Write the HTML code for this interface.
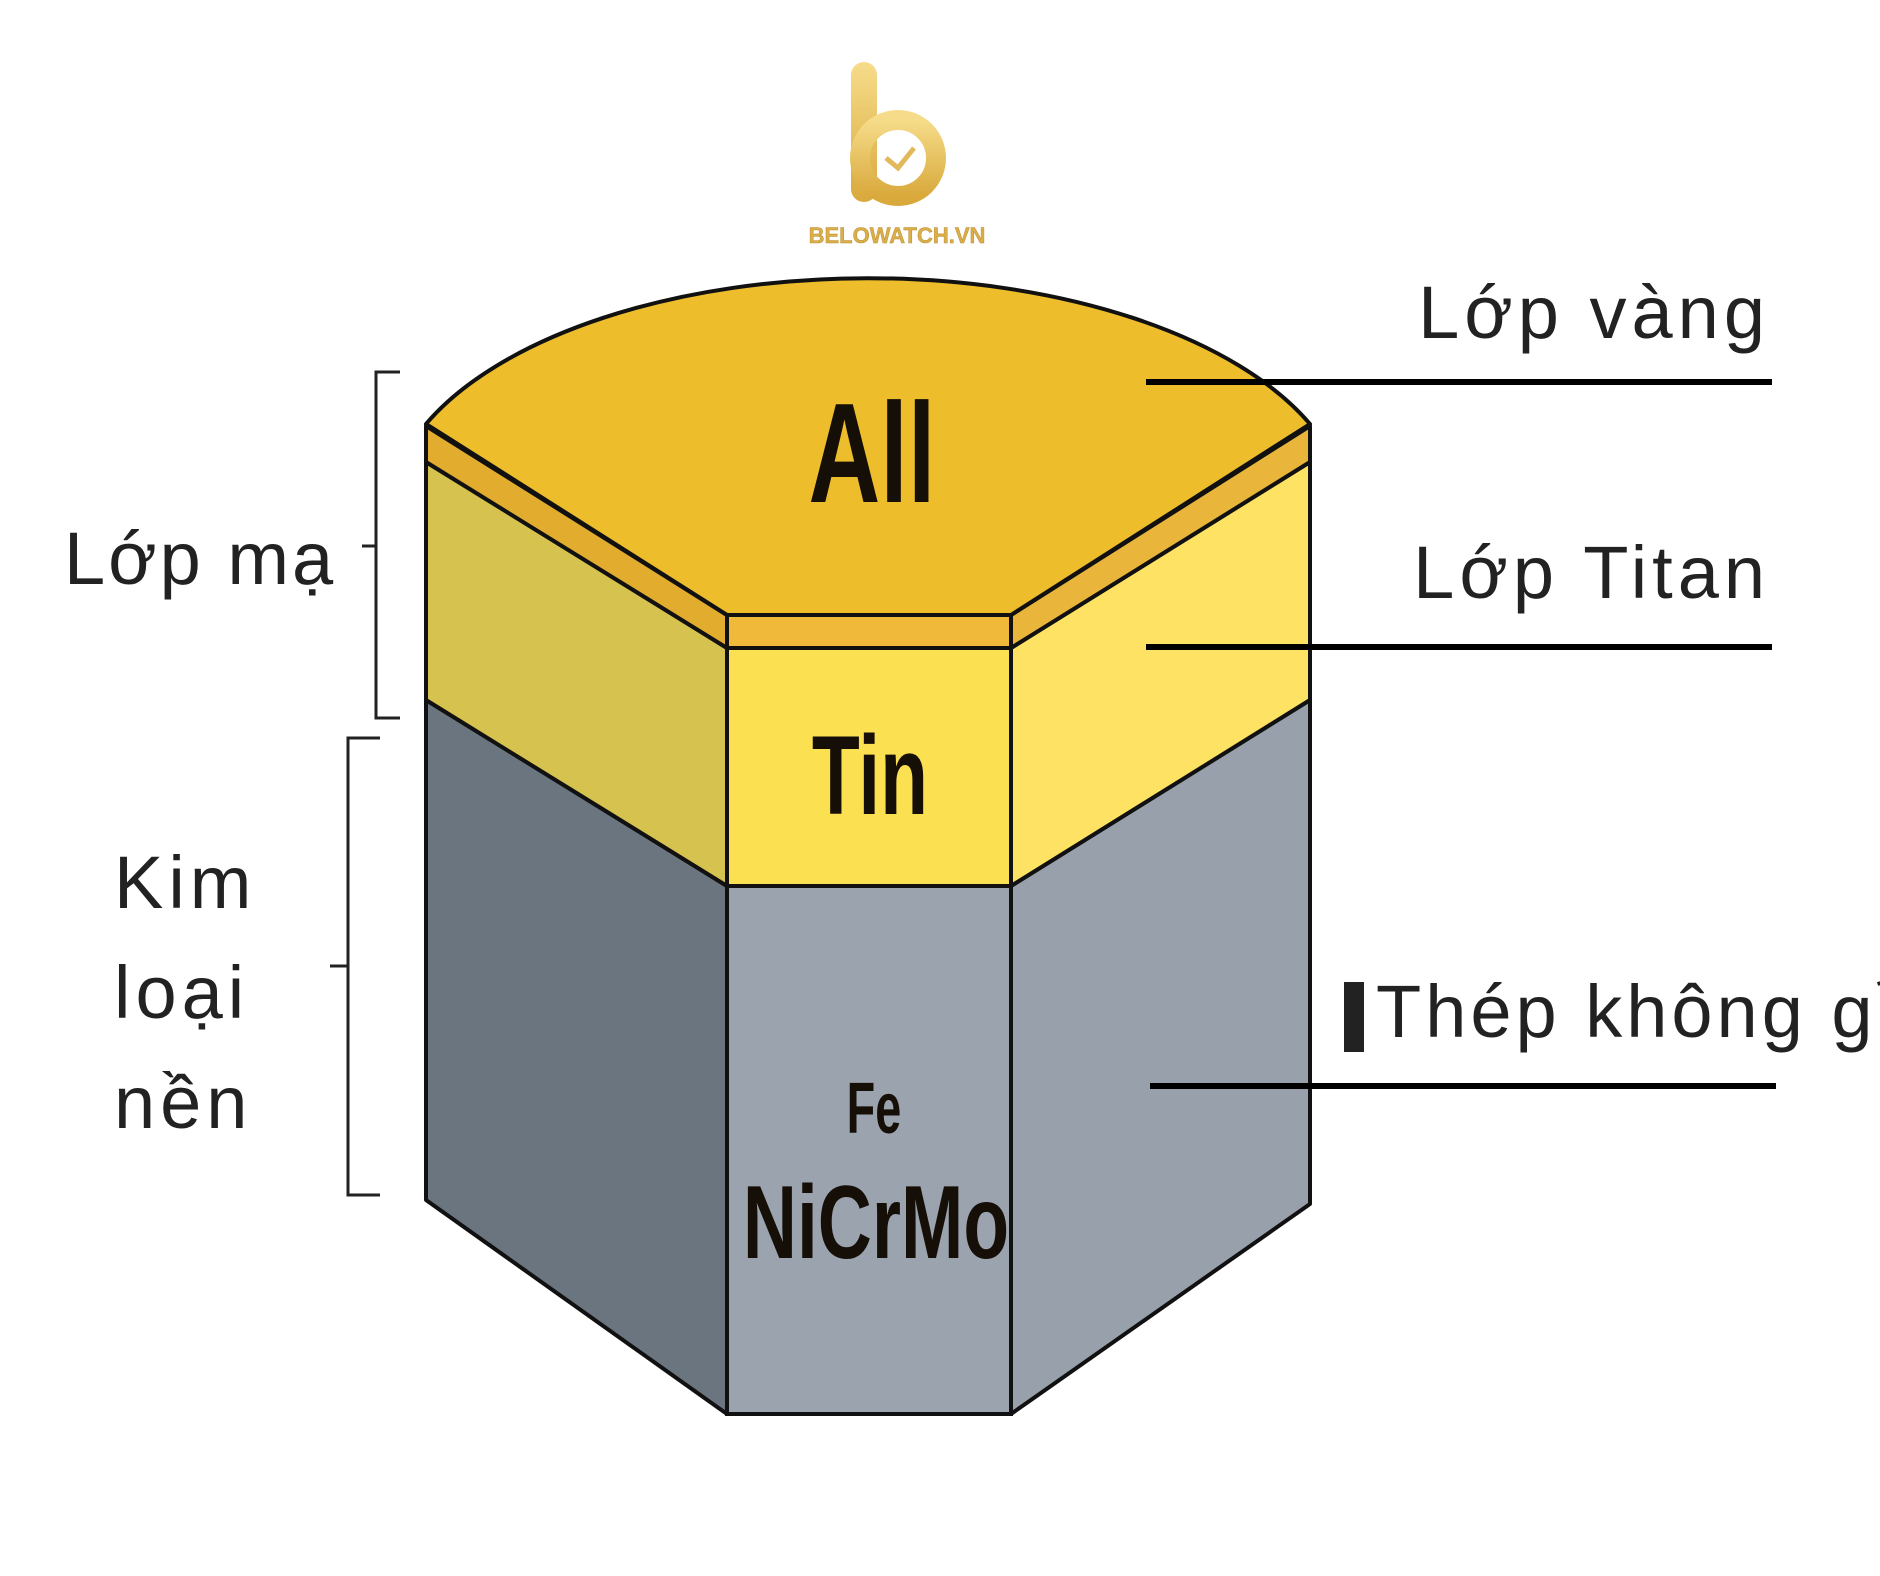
<!DOCTYPE html>
<html><head><meta charset="utf-8"><style>
html,body{margin:0;padding:0;background:#fff;}
svg{display:block;}
</style></head><body>
<svg width="1880" height="1576" viewBox="0 0 1880 1576" xmlns="http://www.w3.org/2000/svg">
<defs>
<linearGradient id="gold" x1="0" y1="0" x2="0" y2="1"><stop offset="0" stop-color="#f6dc8a"/><stop offset="1" stop-color="#d9a93c"/></linearGradient>
</defs>
<!-- logo -->
<rect x="851" y="62" width="26" height="140" rx="13" fill="url(#gold)"/>
<circle cx="898" cy="158" r="38" fill="none" stroke="url(#gold)" stroke-width="20"/>
<path d="M886 158 L898 168 L914 148" fill="none" stroke="#e2b95a" stroke-width="5"/>
<text x="897" y="243" text-anchor="middle" font-family="Liberation Sans, sans-serif" font-weight="bold" font-size="22" fill="#dcae48" stroke="#b8923a" stroke-width="0.5">BELOWATCH.VN</text>

<!-- grey section -->
<polygon points="426,700 727,886 727,1414 426,1200" fill="#6b7580" stroke="#111" stroke-width="4" stroke-linejoin="round"/>
<polygon points="727,886 1011,886 1011,1414 727,1414" fill="#9ba3ae" stroke="#111" stroke-width="4"/>
<polygon points="1011,886 1310,700 1310,1204 1011,1414" fill="#98a0ac" stroke="#111" stroke-width="4" stroke-linejoin="round"/>
<!-- TiN section -->
<polygon points="426,462 727,648 727,886 426,700" fill="#d5c24f" stroke="#111" stroke-width="4" stroke-linejoin="round"/>
<polygon points="727,648 1011,648 1011,886 727,886" fill="#fbe052" stroke="#111" stroke-width="4"/>
<polygon points="1011,648 1310,462 1310,700 1011,886" fill="#fde264" stroke="#111" stroke-width="4" stroke-linejoin="round"/>
<!-- gold band -->
<polygon points="426,426 727,615 727,648 426,462" fill="#e2ac2e" stroke="#111" stroke-width="4" stroke-linejoin="round"/>
<polygon points="727,615 1011,615 1011,648 727,648" fill="#f0b93a" stroke="#111" stroke-width="4"/>
<polygon points="1011,615 1310,426 1310,462 1011,648" fill="#e9b53a" stroke="#111" stroke-width="4" stroke-linejoin="round"/>
<!-- top -->
<path d="M426,424 A480 239 0 0 1 1310,424 L1011,615 L727,615 Z" fill="#edbd2b" stroke="#111" stroke-width="4" stroke-linejoin="round"/>

<g font-family="Liberation Sans, sans-serif" font-weight="bold" fill="#150f08" text-anchor="middle">
<text x="872" y="502" font-size="142" transform="translate(872 0) scale(0.7 1) translate(-872 0)">All</text>
<text x="870" y="814" font-size="112" transform="translate(870 0) scale(0.7 1) translate(-870 0)">Tin</text>
<text x="874" y="1133" font-size="72" transform="translate(874 0) scale(0.65 1) translate(-874 0)">Fe</text>
<text x="876" y="1258" font-size="104" transform="translate(876 0) scale(0.72 1) translate(-876 0)">NiCrMo</text>
</g>

<!-- leader lines -->
<rect x="1146" y="379" width="626" height="6" fill="#000"/>
<rect x="1146" y="644" width="626" height="6" fill="#000"/>
<rect x="1150" y="1083" width="626" height="6" fill="#000"/>

<g font-family="Liberation Sans, sans-serif" font-size="74" fill="#222">
<text x="1770" y="338" text-anchor="end" letter-spacing="5">Lớp vàng</text>
<text x="1770" y="598" text-anchor="end" letter-spacing="5">Lớp Titan</text>
<text x="1376" y="1037" letter-spacing="4">Thép không gỉ</text>
<text x="64" y="584" letter-spacing="3">Lớp mạ</text>
<text x="114" y="908" letter-spacing="5">Kim</text>
<text x="114" y="1018" letter-spacing="5">loại</text>
<text x="114" y="1128" letter-spacing="5">nền</text>
</g>
<rect x="1344" y="982" width="20" height="70" fill="#222"/>

<!-- brackets -->
<g fill="none" stroke="#222" stroke-width="3">
<path d="M400,372 H376 V718 H400"/>
<path d="M376,546 H362"/>
<path d="M380,738 H348 V1195 H380"/>
<path d="M348,966 H330"/>
</g>
</svg>
</body></html>
